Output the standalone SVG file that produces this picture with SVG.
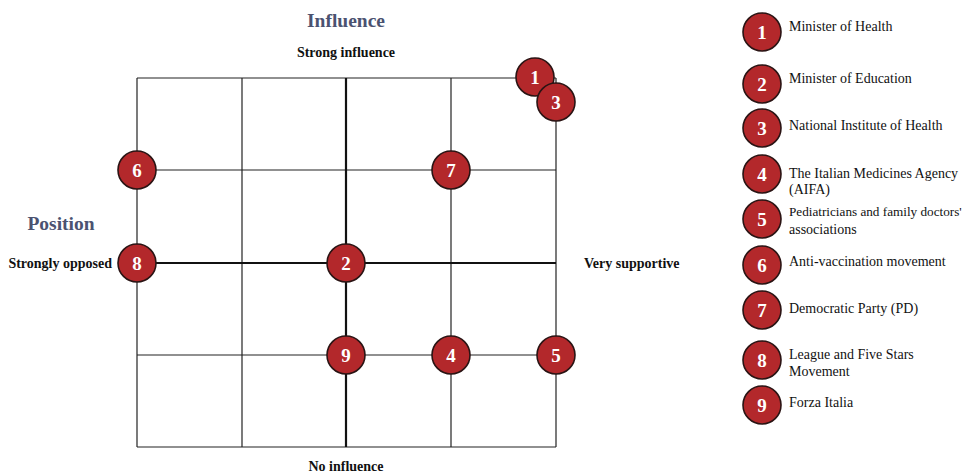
<svg xmlns="http://www.w3.org/2000/svg" width="969" height="473" viewBox="0 0 969 473">
  <style>
    .grid { stroke: #222; stroke-width: 1.2; fill: none; }
    .axis { stroke: #111; stroke-width: 2.2; fill: none; }
    .dot circle { fill: #b3282b; stroke: #2a1414; stroke-width: 1.6; }
    .dot text { fill: #fff; font-family: "Liberation Serif", serif; font-weight: bold; font-size: 19px; text-anchor: middle; }
    .title { fill: #4b5270; font-family: "Liberation Serif", serif; font-weight: bold; font-size: 19.5px; text-anchor: middle; }
    .lbl { fill: #111; font-family: "Liberation Serif", serif; font-weight: bold; font-size: 14px; }
    .leg { fill: #111; font-family: "Liberation Serif", serif; font-size: 14px; }
    .leg.narrow { font-size: 13.2px; }
  </style>
  <rect width="969" height="473" fill="#fff"/>

  <!-- grid -->
  <g id="connectors">
    <line class="grid" x1="137" y1="78" x2="556" y2="78"/>
    <line class="grid" x1="137" y1="170" x2="556" y2="170"/>
    <line class="grid" x1="137" y1="355" x2="556" y2="355"/>
    <line class="grid" x1="137" y1="447" x2="556" y2="447"/>
    <line class="grid" x1="137" y1="78" x2="137" y2="447"/>
    <line class="grid" x1="242" y1="78" x2="242" y2="447"/>
    <line class="grid" x1="451" y1="78" x2="451" y2="447"/>
    <line class="grid" x1="556" y1="78" x2="556" y2="447"/>
    <line class="axis" x1="137" y1="263" x2="556" y2="263"/>
    <line class="axis" x1="346" y1="78" x2="346" y2="447"/>
  </g>

  <!-- axis labels -->
  <g id="labels">
    <text class="title" x="346" y="27">Influence</text>
    <text class="title" x="61" y="230">Position</text>
    <text class="lbl" x="346" y="57" text-anchor="middle">Strong influence</text>
    <text class="lbl" x="112" y="268" text-anchor="end">Strongly opposed</text>
    <text class="lbl" x="584" y="268">Very supportive</text>
    <text class="lbl" x="346" y="471" text-anchor="middle">No influence</text>
  </g>

  <!-- stakeholders on the grid -->
  <g id="node-1" class="dot"><circle cx="535" cy="77" r="19"/><text x="535" y="84">1</text></g>
  <g id="node-3" class="dot"><circle cx="556" cy="102" r="19"/><text x="556" y="109">3</text></g>
  <g id="node-6" class="dot"><circle cx="137" cy="170" r="19"/><text x="137" y="177">6</text></g>
  <g id="node-7" class="dot"><circle cx="451" cy="170" r="19"/><text x="451" y="177">7</text></g>
  <g id="node-8" class="dot"><circle cx="137" cy="263" r="19"/><text x="137" y="270">8</text></g>
  <g id="node-2" class="dot"><circle cx="346" cy="263" r="19"/><text x="346" y="270">2</text></g>
  <g id="node-9" class="dot"><circle cx="346" cy="355" r="19"/><text x="346" y="362">9</text></g>
  <g id="node-4" class="dot"><circle cx="451" cy="355" r="19"/><text x="451" y="362">4</text></g>
  <g id="node-5" class="dot"><circle cx="556" cy="355" r="19"/><text x="556" y="362">5</text></g>

  <!-- legend -->
  <g id="legend">
    <g class="dot"><circle cx="762" cy="32" r="19"/><text x="762" y="39">1</text></g>
    <text class="leg" x="789" y="31">Minister of Health</text>
    <g class="dot"><circle cx="762" cy="84" r="19"/><text x="762" y="91">2</text></g>
    <text class="leg" x="789" y="83">Minister of Education</text>
    <g class="dot"><circle cx="762" cy="128" r="19"/><text x="762" y="135">3</text></g>
    <text class="leg" x="789" y="130">National Institute of Health</text>
    <g class="dot"><circle cx="762" cy="174" r="19"/><text x="762" y="181">4</text></g>
    <text class="leg" x="789" y="178">The Italian Medicines Agency</text>
    <text class="leg" x="789" y="194">(AIFA)</text>
    <g class="dot"><circle cx="762" cy="219" r="19"/><text x="762" y="226">5</text></g>
    <text class="leg narrow" x="789" y="216">Pediatricians and family doctors'</text>
    <text class="leg" x="789" y="234">associations</text>
    <g class="dot"><circle cx="762" cy="265" r="19"/><text x="762" y="272">6</text></g>
    <text class="leg" x="789" y="266">Anti-vaccination movement</text>
    <g class="dot"><circle cx="762" cy="310" r="19"/><text x="762" y="317">7</text></g>
    <text class="leg" x="789" y="313">Democratic Party (PD)</text>
    <g class="dot"><circle cx="762" cy="360" r="19"/><text x="762" y="367">8</text></g>
    <text class="leg" x="789" y="359">League and Five Stars</text>
    <text class="leg" x="789" y="376">Movement</text>
    <g class="dot"><circle cx="762" cy="405" r="19"/><text x="762" y="412">9</text></g>
    <text class="leg" x="789" y="407">Forza Italia</text>
  </g>
</svg>
